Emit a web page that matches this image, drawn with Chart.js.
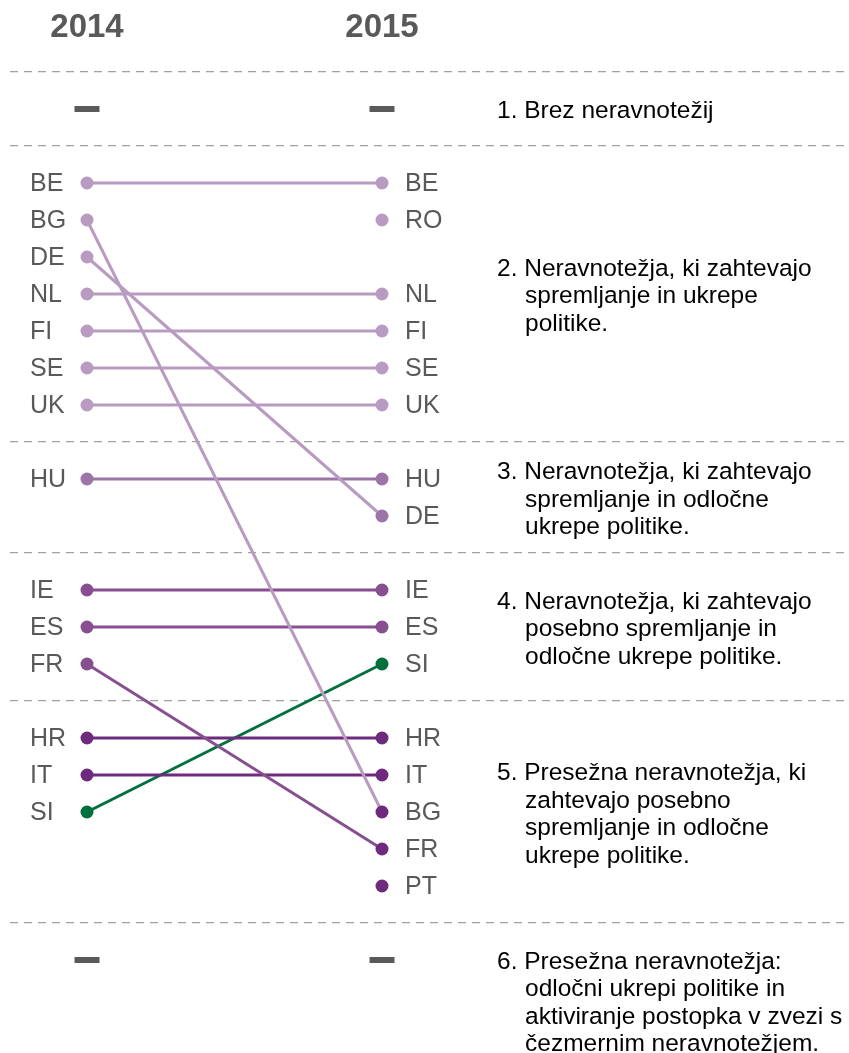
<!DOCTYPE html>
<html>
<head>
<meta charset="utf-8">
<script src="https://cdn.jsdelivr.net/npm/chart.js@4"></script>
<style>
  body { margin: 0; background: #fff; }
  #wrap { width: 849px; height: 1053px; }
</style>
</head>
<body>
<div id="wrap"><canvas id="chart" width="849" height="1053"></canvas></div>
<script>
// Data
const years = ["2014", "2015"];

const names2014 = ["BE", "BG", "DE", "NL", "FI", "SE", "UK", "HU", "IE", "ES", "FR", "HR", "IT", "SI"];
const rows2014 = [0, 1, 2, 3, 4, 5, 6, 8, 11, 12, 13, 15, 16, 17];
const groups2014 = [2, 2, 2, 2, 2, 2, 2, 3, 4, 4, 4, 5, 5, 5];

const names2015 = ["BE", "RO", "NL", "FI", "SE", "UK", "HU", "DE", "IE", "ES", "SI", "HR", "IT", "BG", "FR", "PT"];
const rows2015 = [0, 1, 3, 4, 5, 6, 8, 9, 11, 12, 13, 15, 16, 17, 18, 19];
const groups2015 = [2, 2, 2, 2, 2, 2, 3, 3, 4, 4, 4, 5, 5, 5, 5, 5];

const highlighted = ["SI"];
// groups 1 and 6 hold no country in either year
const emptyRows = [-2, 21];
const separatorRows = [-3, -1, 7, 10, 14, 20];

const groupTexts = [
  ["1. Brez neravnotežij"],
  ["2. Neravnotežja, ki zahtevajo", "spremljanje in ukrepe", "politike."],
  ["3. Neravnotežja, ki zahtevajo", "spremljanje in odločne", "ukrepe politike."],
  ["4. Neravnotežja, ki zahtevajo", "posebno spremljanje in", "odločne ukrepe politike."],
  ["5. Presežna neravnotežja, ki", "zahtevajo posebno", "spremljanje in odločne", "ukrepe politike."],
  ["6. Presežna neravnotežja:", "odločni ukrepi politike in", "aktiviranje postopka v zvezi s", "čezmernim neravnotežjem."],
];
// row at which each text block is centred
const groupTextRows = [-2, 3, 8.5, 12, 17, 22.1];

const groupColors = { 2: "#b99ac1", 3: "#9d74a7", 4: "#874f90", 5: "#6e2b7d" };
const highlightColor = "#00703c";
const labelColor = "#595959";
const FONT = "'Liberation Sans', Arial, sans-serif";

// one dataset per country, 2014 -> 2015
const allNames = [];
names2014.concat(names2015).forEach((n) => {
  if (!allNames.includes(n)) allNames.push(n);
});

const datasets = allNames.map((name) => {
  const i14 = names2014.indexOf(name);
  const i15 = names2015.indexOf(name);
  const points = [];
  const colors = [];
  if (i14 !== -1) {
    points.push({ x: 0, y: rows2014[i14] });
    colors.push(highlighted.includes(name) ? highlightColor : groupColors[groups2014[i14]]);
  }
  if (i15 !== -1) {
    points.push({ x: 1, y: rows2015[i15] });
    colors.push(highlighted.includes(name) ? highlightColor : groupColors[groups2015[i15]]);
  }
  return {
    label: name,
    data: points,
    showLine: true,
    borderColor: colors[0],
    borderWidth: 3,
    pointBackgroundColor: colors,
    pointBorderColor: colors,
    pointRadius: 6.5,
    pointBorderWidth: 0,
    pointHoverRadius: 6.5,
  };
});

// dash markers for empty groups
datasets.push({
  label: "empty",
  data: emptyRows.flatMap((r) => [{ x: 0, y: r }, { x: 1, y: r }]),
  showLine: false,
  pointStyle: "line",
  pointRadius: 12.5,
  pointBorderWidth: 6,
  pointBorderColor: "#5a5a5a",
  borderColor: "#5a5a5a",
});

const labelsPlugin = {
  id: "slopeLabels",
  afterDatasetsDraw(chart) {
    const ctx = chart.ctx;
    const xs = chart.scales.x;
    const ys = chart.scales.y;
    ctx.save();

    // year headings
    ctx.font = "bold 33px " + FONT;
    ctx.fillStyle = labelColor;
    ctx.textAlign = "center";
    ctx.textBaseline = "middle";
    years.forEach((yr, i) => {
      ctx.fillText(yr, xs.getPixelForValue(i), 28);
    });

    // country labels
    ctx.font = "25px " + FONT;
    ctx.textAlign = "left";
    names2014.forEach((n, i) => {
      ctx.fillText(n, xs.getPixelForValue(0) - 57, ys.getPixelForValue(rows2014[i]) + 1.5);
    });
    names2015.forEach((n, i) => {
      ctx.fillText(n, xs.getPixelForValue(1) + 23, ys.getPixelForValue(rows2015[i]) + 1.5);
    });

    // group descriptions
    ctx.font = "24.5px " + FONT;
    ctx.fillStyle = "#000";
    const lineH = 27.5;
    const textX = xs.getPixelForValue(1) + 115;
    groupTexts.forEach((lines, g) => {
      const cy = ys.getPixelForValue(groupTextRows[g]);
      const top = cy - ((lines.length - 1) * lineH) / 2;
      lines.forEach((line, j) => {
        ctx.fillText(line, j === 0 ? textX : textX + 28, top + j * lineH + 2.5, 849 - textX - 30);
      });
    });
    ctx.restore();
  },
};

new Chart(document.getElementById("chart"), {
  type: "scatter",
  data: { datasets: datasets },
  options: {
    responsive: false,
    animation: false,
    layout: { padding: { left: 10, right: 0, top: 0, bottom: 0 }, autoPadding: false },
    plugins: {
      legend: { display: false },
      tooltip: { enabled: false },
    },
    scales: {
      x: {
        display: false,
        type: "linear",
        min: -77 / 295,
        max: (849 - 87) / 295,
      },
      y: {
        type: "linear",
        reverse: true,
        min: -183 / 37,
        max: (1053 - 183) / 37,
        afterBuildTicks: (axis) => {
          axis.ticks = separatorRows.map((v) => ({ value: v }));
        },
        ticks: { display: false },
        grid: {
          drawTicks: false,
          color: "#a0a0a0",
          lineWidth: 1.3,
        },
        border: { display: false, dash: [8, 6] },
      },
    },
  },
  plugins: [labelsPlugin],
});
</script>
</body>
</html>
